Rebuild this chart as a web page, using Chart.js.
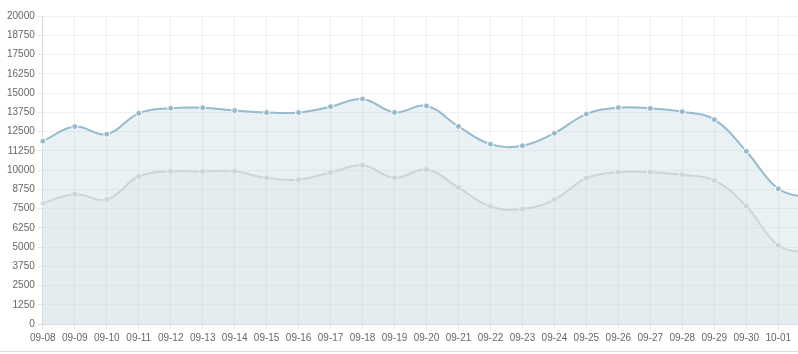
<!DOCTYPE html>
<html>
<head>
<meta charset="utf-8">
<script src="https://cdn.jsdelivr.net/npm/chart.js@4.4.1/dist/chart.umd.min.js"></script>
<style>
  html, body { margin: 0; padding: 0; background: #fff; overflow: hidden; }
  #wrap { position: relative; width: 798px; height: 354px; overflow: hidden; }
  #box { position: absolute; left: 0; top: 0; width: 826px; height: 348px; }
  #rule { position: absolute; left: 0; top: 351px; width: 798px; height: 1px; background: #dcdcdc; }
</style>
</head>
<body>
<div id="wrap">
  <div id="box"><canvas id="main-chart"></canvas></div>
  <div id="rule"></div>
</div>
<script>
const dayLabels = ['09-08', '09-09', '09-10', '09-11', '09-12', '09-13', '09-14', '09-15', '09-16', '09-17',
  '09-18', '09-19', '09-20', '09-21', '09-22', '09-23', '09-24', '09-25', '09-26', '09-27',
  '09-28', '09-29', '09-30', '10-01', '10-02'];

const upperValues = [11870, 12820, 12320, 13680, 14010, 14050, 13860, 13730, 13730, 14110,
  14610, 13740, 14160, 12830, 11680, 11570, 12390, 13630, 14050, 14000,
  13790, 13270, 11220, 8780, 8150];

const lowerValues = [7850, 8430, 8080, 9580, 9920, 9900, 9920, 9480, 9370, 9840,
  10310, 9490, 10030, 8860, 7630, 7460, 8080, 9470, 9860, 9860,
  9690, 9320, 7660, 5110, 4600];

const yMin = 0;
const yMax = 20000;
const yStep = 1250;

const labelFont = { size: 10, family: '"Liberation Sans", Arial, sans-serif' };

const ctx = document.getElementById('main-chart');

// blue set is index 0 so it is drawn last, its fill washes over the grey line
new Chart(ctx, {
  type: 'line',
  data: {
    labels: dayLabels,
    datasets: [
      {
        data: upperValues,
        borderColor: 'rgba(151,187,205,1)',
        backgroundColor: 'rgba(151,187,205,0.2)',
        pointBackgroundColor: 'rgba(151,187,205,1)',
        pointBorderColor: '#fff',
        fill: 'origin',
      },
      {
        data: lowerValues,
        borderColor: 'rgba(220,220,220,1)',
        backgroundColor: 'rgba(220,220,220,0.2)',
        pointBackgroundColor: 'rgba(220,220,220,1)',
        pointBorderColor: '#fff',
        fill: 'origin',
      }
    ]
  },
  options: {
    responsive: true,
    maintainAspectRatio: false,
    animation: false,
    layout: {
      padding: { top: 16, left: 4, right: 0, bottom: 1 }
    },
    elements: {
      line: { tension: 0.4, borderWidth: 2 },
      point: { radius: 3, borderWidth: 1 }
    },
    scales: {
      x: {
        grid: {
          color: 'rgba(0,0,0,0.05)',
          tickLength: 5,
          tickColor: 'rgba(0,0,0,0.1)'
        },
        border: { color: 'rgba(0,0,0,0.1)' },
        ticks: {
          color: '#666',
          padding: 3,
          maxRotation: 0,
          autoSkip: false,
          font: labelFont
        }
      },
      y: {
        min: yMin,
        max: yMax,
        grid: {
          color: 'rgba(0,0,0,0.05)',
          tickLength: 5,
          tickColor: 'rgba(0,0,0,0.1)'
        },
        border: { color: 'rgba(0,0,0,0.1)' },
        ticks: {
          stepSize: yStep,
          color: '#666',
          padding: 3,
          font: labelFont,
          callback: (value) => String(value)
        }
      }
    },
    plugins: {
      legend: { display: false },
      tooltip: { enabled: false }
    }
  }
});
</script>
</body>
</html>
